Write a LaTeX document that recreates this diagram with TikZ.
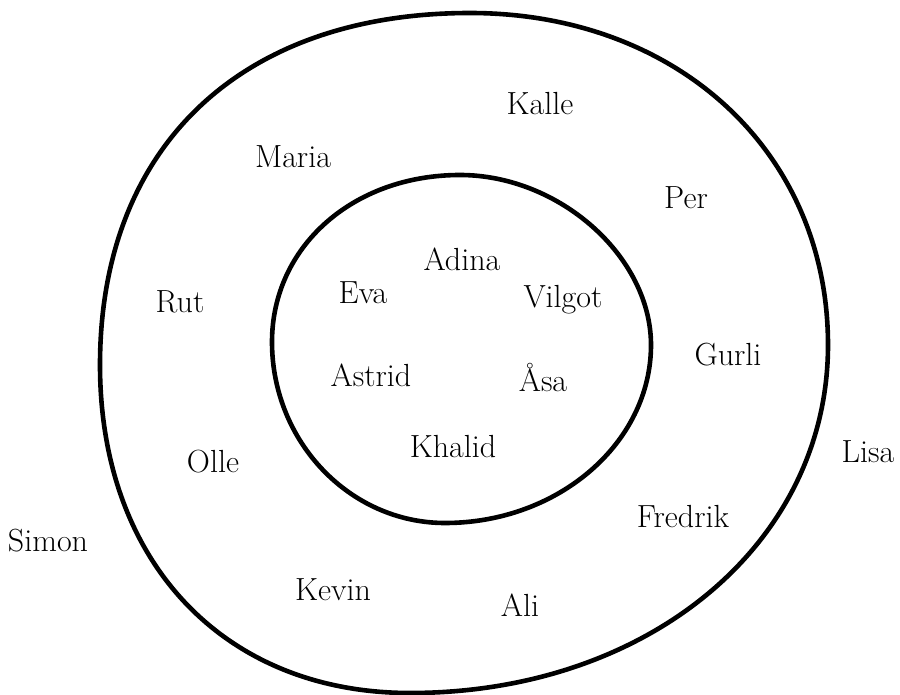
\documentclass[tikz,border=0pt]{standalone}
\usepackage{tikz}

\begin{document}
\begin{tikzpicture}[
    x=0.5pt, y=-0.5pt,
    ring/.style={draw=black, line width=2.3pt, line join=round},
    person/.style={font=\fontsize{16}{19}\selectfont, inner sep=1pt}
]
\useasboundingbox (0,0) rectangle (900,695);

% --- Yttre cirkel ---
\coordinate (oT) at (470,13);
\coordinate (oR) at (828,345);
\coordinate (oB) at (410,693);
\coordinate (oL) at (100,365);
\draw[ring] (oT) .. controls +(207.6,0) and +(0,-192.6) .. (oR)
    .. controls +(0,198.4) and +(238.3,0) .. (oB)
    .. controls +(-186,0) and +(0,196.8) .. (oL)
    .. controls +(0,-218.2) and +(-229.4,0) .. (oT) -- cycle;

% --- Inre cirkel ---
\coordinate (iT) at (460,175);
\coordinate (iR) at (651,345);
\coordinate (iB) at (445,523);
\coordinate (iL) at (272,342);
\draw[ring] (iT) .. controls +(99.3,0) and +(0,-88.4) .. (iR)
    .. controls +(0,97.9) and +(113.3,0) .. (iB)
    .. controls +(-95.2,0) and +(0,99.6) .. (iL)
    .. controls +(0,-95.2) and +(-107.2,0) .. (iT) -- cycle;

% --- Namn, inre cirkel ---
\node[person] (adina)  at (462,259) {Adina};
\node[person] (eva)    at (363,293) {Eva};
\node[person] (vilgot) at (563,300) {Vilgot};
\node[person] (astrid) at (371,375) {Astrid};
\node[person] (asa)    at (543,378) {Åsa};
\node[person] (khalid) at (453,447) {Khalid};

% --- Namn, yttre cirkel ---
\node[person] (kalle)   at (540,104) {Kalle};
\node[person] (maria)   at (293,157) {Maria};
\node[person] (per)     at (686,198) {Per};
\node[person] (rut)     at (180,302) {Rut};
\node[person] (gurli)   at (728,355) {Gurli};
\node[person] (olle)    at (213,462) {Olle};
\node[person] (fredrik) at (683,517) {Fredrik};
\node[person] (kevin)   at (333,590) {Kevin};
\node[person] (ali)     at (520,605) {Ali};

% --- Namn, utanför ---
\node[person] (lisa)  at (868,452) {Lisa};
\node[person] (simon) at (48,541) {Simon};

\end{tikzpicture}
\end{document}
